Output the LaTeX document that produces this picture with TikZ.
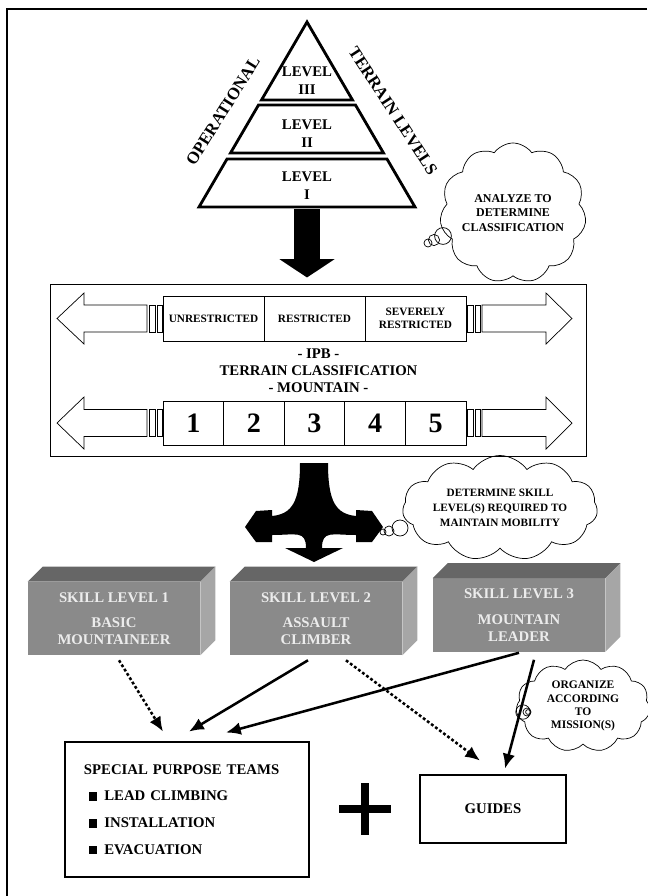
\documentclass[tikz,border=0pt]{standalone}
\usepackage{fontspec}
\setmainfont{Liberation Serif}
\usepackage{tikz}
\usetikzlibrary{calc}
\usetikzlibrary{arrows.meta}
\usetikzlibrary{shapes}
\usetikzlibrary{positioning}
\definecolor{skillfront}{RGB}{138,138,138}
\definecolor{skilltop}{RGB}{102,102,102}
\definecolor{skillside}{RGB}{166,166,166}
\definecolor{skilltext}{RGB}{236,236,236}
\tikzstyle{tier} = [draw=black, line width=2pt, line join=miter]
\tikzstyle{lvl} = [align=center, font=\bfseries\fontsize{10.5}{12.8}\selectfont]
\tikzstyle{slope} = [font=\bfseries\fontsize{12}{14}\selectfont, inner sep=1pt]
\tikzstyle{cell} = [rectangle, draw=black, line width=0.6pt, inner sep=0pt, align=center, font=\bfseries\fontsize{8}{9.2}\selectfont, minimum width=2.525cm, minimum height=1.125cm]
\tikzstyle{numcell} = [cell, font=\bfseries\fontsize{20}{22}\selectfont, minimum width=1.515cm, minimum height=1.1cm]
\tikzstyle{hollow} = [draw=black, line width=0.5pt, fill=white]
\tikzstyle{think} = [cloud, draw=black, line width=0.5pt, cloud puffs=11, cloud puff arc=110, cloud ignores aspect, inner sep=0pt, align=center]
\tikzstyle{bubble} = [circle, draw=black, line width=0.5pt, inner sep=0pt]
\tikzstyle{skill} = [rectangle, fill=skillfront, text=skilltext, minimum width=4.3cm, minimum height=1.825cm, align=center, font=\bfseries\fontsize{10.5}{12.1}\selectfont]
\tikzstyle{solidarr} = [-{Latex[length=10.5pt, width=9pt]}, line width=1.8pt]
\tikzstyle{dotarr} = [solidarr, dash pattern=on 2pt off 1.6pt]
\tikzstyle{teambox} = [rectangle, draw=black, line width=2pt, font=\bfseries\fontsize{10.5}{13}\selectfont]

\begin{document}
\begin{tikzpicture}[x=0.025cm, y=-0.025cm]
\useasboundingbox (0,0) rectangle (647,896);
\draw [line width=0.8pt] (647,9) -- (7,9) -- (7,896);

% pyramid of terrain levels
\draw [tier] (307,22) -- (352.5,100) -- (261.5,100) -- cycle;
\draw [tier] (258.5,105) -- (355.5,105) -- (383.5,153) -- (230.5,153) -- cycle;
\draw [tier] (227,159) -- (387,159) -- (415,207) -- (199,207) -- cycle;
\node [lvl] (lvl3) at (307,81) {LEVEL\\III};
\node [lvl] (lvl2) at (307,134) {LEVEL\\II};
\node [lvl] (lvl1) at (307,186) {LEVEL\\I};
\node [slope, rotate=58] (oper) at (223,111) {OPERATIONAL};
\node [slope, rotate=-57] (terr) at (393,111) {TERRAIN LEVELS};
\coordinate (pyrfoot) at (307,209);

% analyze cloud
\node [think, minimum width=3.175cm, minimum height=3.5cm, font=\bfseries\fontsize{8.5}{10.5}\selectfont] (c1) at (513,213) {ANALYZE TO\\DETERMINE\\CLASSIFICATION};
\node [bubble, minimum size=0.2cm] (c1a) at (428,243) {};
\node [bubble, minimum size=0.28cm] (c1b) at (434,240) {};
\node [bubble, minimum size=0.42cm] (c1c) at (443,236) {};

% IPB classification box
\node [rectangle, draw=black, line width=0.7pt, minimum width=13.375cm, minimum height=4.275cm, font=\bfseries\fontsize{10.5}{12}\selectfont, align=center] (ipb) at (318.5,370.5) {- IPB -\\TERRAIN CLASSIFICATION\\- MOUNTAIN -};
\draw [line width=18.5pt, -{Triangle[width=38.5pt, length=13pt]}] (pyrfoot) -- ($(pyrfoot |- ipb.north)+(0,-7)$);

\node [cell] (u1) at (213.5,318.5) {UNRESTRICTED};
\node [cell] (u2) at (314.5,318.5) {RESTRICTED};
\node [cell] (u3) at (415.5,318.5) {SEVERELY\\RESTRICTED};
\draw [hollow] (147,305) -- (84,305) -- (84,293) -- (57,318.5) -- (84,344) -- (84,332) -- (147,332) -- cycle;
\draw [hollow] (149,305) rectangle (155,332);
\draw [hollow] (157,305) rectangle (162,332);
\draw [hollow] (482,305) -- (546,305) -- (546,293) -- (572,318.5) -- (546,344) -- (546,332) -- (482,332) -- cycle;
\draw [hollow] (467,305) rectangle (473,332);
\draw [hollow] (475,305) rectangle (480,332);

\node [numcell] (n1) at (193.3,423) {1};
\node [numcell] (n2) at (253.9,423) {2};
\node [numcell] (n3) at (314.5,423) {3};
\node [numcell] (n4) at (375.1,423) {4};
\node [numcell] (n5) at (435.7,423) {5};
\draw [hollow] (147,409.5) -- (84,409.5) -- (84,397) -- (57,423) -- (84,449) -- (84,436.5) -- (147,436.5) -- cycle;
\draw [hollow] (149,409.5) rectangle (155,436.5);
\draw [hollow] (157,409.5) rectangle (162,436.5);
\draw [hollow] (482,409.5) -- (546,409.5) -- (546,397) -- (572,423) -- (546,449) -- (546,436.5) -- (482,436.5) -- cycle;
\draw [hollow] (467,409.5) rectangle (473,436.5);
\draw [hollow] (475,409.5) rectangle (480,436.5);

% three-way arrow
\fill [black] (300,463) .. controls (300,502) and (292,514) .. (272,516) -- (272,510) -- (256,511) -- (245,527) -- (256,542) -- (272,542) -- (272,535) .. controls (296,535) and (306,530) .. (306,548) -- (285,548) -- (314,562) -- (343,548) -- (322,548) .. controls (322,530) and (332,535) .. (356,535) -- (356,542) -- (372,542) -- (383,527) -- (372,511) -- (356,510) -- (356,516) .. controls (336,514) and (328,502) .. (328,463) -- cycle;

% skill level cloud
\node [think, minimum width=4.875cm, minimum height=2.625cm, font=\bfseries\fontsize{8}{10.6}\selectfont] (c2) at (500,508) {DETERMINE SKILL\\LEVEL(S) REQUIRED TO\\MAINTAIN MOBILITY};
\node [bubble, minimum size=0.15cm] (c2a) at (383,532) {};
\node [bubble, minimum size=0.25cm] (c2b) at (389,531) {};
\node [bubble, minimum size=0.4cm] (c2c) at (400,528) {};

% skill level blocks
\node [skill] (s1) at (114,618.5) {SKILL LEVEL 1\\[6pt]BASIC\\MOUNTAINEER};
\node [skill] (s2) at (316,618.5) {SKILL LEVEL 2\\[6pt]ASSAULT\\CLIMBER};
\node [skill] (s3) at (519,615) {SKILL LEVEL 3\\[6pt]MOUNTAIN\\LEADER};
\fill [skilltop] (s1.north west) -- ++(15,-15) -- ($(s1.north east)+(15,-15)$) -- (s1.north east) -- cycle;
\fill [skillside] (s1.north east) -- ++(15,-15) -- ($(s1.south east)+(15,-15)$) -- (s1.south east) -- cycle;
\fill [skilltop] (s2.north west) -- ++(15,-15) -- ($(s2.north east)+(15,-15)$) -- (s2.north east) -- cycle;
\fill [skillside] (s2.north east) -- ++(15,-15) -- ($(s2.south east)+(15,-15)$) -- (s2.south east) -- cycle;
\fill [skilltop] (s3.north west) -- ++(15,-15) -- ($(s3.north east)+(15,-15)$) -- (s3.north east) -- cycle;
\fill [skillside] (s3.north east) -- ++(15,-15) -- ($(s3.south east)+(15,-15)$) -- (s3.south east) -- cycle;

% teams and guides
\node [teambox, minimum width=6.1cm, minimum height=3.375cm, text width=5.15cm, align=left] (spt) at (187,809.5) {SPECIAL PURPOSE TEAMS\\[6pt]
\hspace*{3.5pt}\rule{6pt}{6pt}\hspace{5pt}LEAD CLIMBING\\[6pt]
\hspace*{3.5pt}\rule{6pt}{6pt}\hspace{5pt}INSTALLATION\\[6pt]
\hspace*{3.5pt}\rule{6pt}{6pt}\hspace{5pt}EVACUATION};
\node [teambox, minimum width=3.65cm, minimum height=1.7cm] (guides) at (493,809) {GUIDES};
\coordinate (plus) at (365,809);
\draw [line width=6pt] ($(plus)+(-26,0)$) -- ($(plus)+(26,0)$);
\draw [line width=6pt] ($(plus)+(0,-26)$) -- ($(plus)+(0,26)$);

% organize cloud
\node [think, minimum width=3.35cm, minimum height=2.3cm, font=\bfseries\fontsize{8.2}{9.3}\selectfont] (c3) at (583,706) {ORGANIZE\\ACCORDING\\TO\\MISSION(S)};
\node [bubble, minimum size=0.36cm] (c3a) at (523,712) {};
\node [bubble, minimum size=0.2cm] (c3b) at (527,712) {};
\node [bubble, minimum size=0.12cm] (c3c) at (528,712) {};

\draw [dotarr] ($(s1.south)+(5,5)$) to ($(spt.north)+(-24,-9)$);
\draw [solidarr] ($(s2.south)+(-8,5)$) to ($(spt.north)+(2,-9)$);
\draw [solidarr] ($(s3.south)+(0,1)$) to ($(spt.north)+(39,-8)$);
\draw [dotarr] ($(s2.south)+(30,5)$) to ($(guides.north)+(-13,-13)$);
\draw [solidarr] ($(s3.south)+(15,8)$) to ($(guides.north)+(12,-5)$);
\end{tikzpicture}
\end{document}
